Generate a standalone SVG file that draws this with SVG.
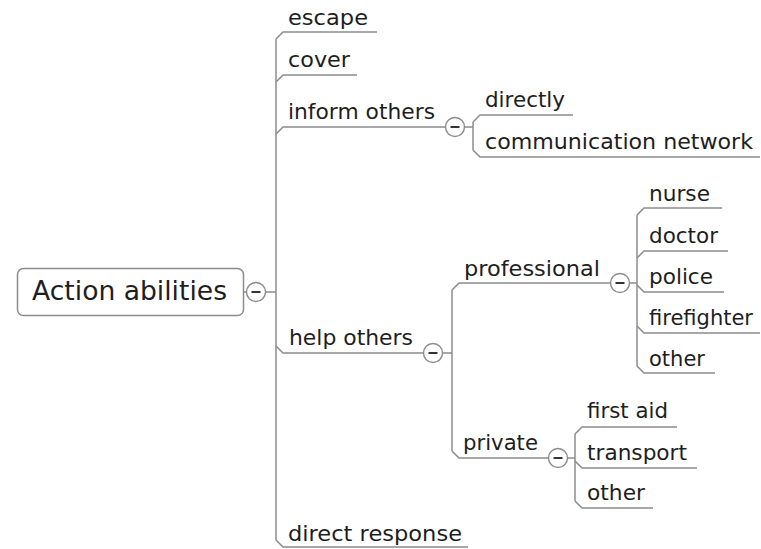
<svg xmlns="http://www.w3.org/2000/svg" width="761" height="549" viewBox="0 0 761 549">
  <style>
    .lbl { font-family: "DejaVu Sans", "Liberation Sans", sans-serif; font-size: 22px; fill: #1e1e1e; }
    .root { font-family: "DejaVu Sans", "Liberation Sans", sans-serif; font-size: 26.5px; fill: #1e1e1e; }
    .ln { fill: none; stroke: #8c8c8c; stroke-width: 1.5; stroke-linejoin: round; }
    .tog circle { fill: #fff; stroke: #8c8c8c; stroke-width: 1.4; }
    .tog line { stroke: #333; stroke-width: 2; }
  </style>
  <defs>
    <g id="toggle" class="tog">
      <circle cx="0" cy="0" r="9.5"/>
      <line x1="-4.5" y1="0" x2="4.5" y2="0"/>
    </g>
  </defs>
  <rect width="761" height="549" fill="#fff"/>

  <!-- connectors -->
  <g id="connectors" class="ln">
    <!-- root to main trunk -->
    <path d="M244,292 H246.5 M265.5,292 H276"/>
    <path d="M276,39 V540"/>
    <path d="M276,39 L283,32 H377"/>
    <path d="M276,82 L283,75 H357"/>
    <path d="M276,134 L283,127 H445.5 M464.5,127 H473"/>
    <path d="M276,346 L283,353 H423.5 M442.5,353 H452"/>
    <path d="M276,540 L283,547 H468"/>
    <!-- inform others -->
    <path d="M473,122 V150"/>
    <path d="M473,122 L480,115 H573"/>
    <path d="M473,150 L480,157 H760"/>
    <!-- help others -->
    <path d="M452,290 V451"/>
    <path d="M452,290 L459,283 H610.5 M629.5,283 H637"/>
    <path d="M452,451 L459,458 H548.5 M567.5,458 H575"/>
    <!-- professional -->
    <path d="M637,215 V366"/>
    <path d="M637,215 L644,208 H722"/>
    <path d="M637,258 L644,251 H728"/>
    <path d="M637,285 L644,292 H724"/>
    <path d="M637,326 L644,333 H760"/>
    <path d="M637,366 L644,373 H715"/>
    <!-- private -->
    <path d="M575,434 V501"/>
    <path d="M575,434 L582,427 H677"/>
    <path d="M575,461 L582,468 H697"/>
    <path d="M575,501 L582,508 H653"/>
  </g>

  <g id="node-root">
    <rect x="17.5" y="268.5" width="226" height="47" rx="6" fill="#fff" stroke="#8c8c8c" stroke-width="1.5"/>
    <text class="root" x="32" y="300" textLength="195" lengthAdjust="spacingAndGlyphs">Action abilities</text>
    <use href="#toggle" x="256" y="292"/>
  </g>

  <g id="node-escape"><text class="lbl" x="288" y="25" textLength="80" lengthAdjust="spacingAndGlyphs">escape</text></g>
  <g id="node-cover"><text class="lbl" x="288" y="67" textLength="62" lengthAdjust="spacingAndGlyphs">cover</text></g>
  <g id="node-inform">
    <text class="lbl" x="288" y="119" textLength="147" lengthAdjust="spacingAndGlyphs">inform others</text>
    <use href="#toggle" x="455" y="127"/>
  </g>
  <g id="node-directly"><text class="lbl" x="485" y="107" textLength="80" lengthAdjust="spacingAndGlyphs">directly</text></g>
  <g id="node-network"><text class="lbl" x="485" y="149" textLength="268" lengthAdjust="spacingAndGlyphs">communication network</text></g>

  <g id="node-help">
    <text class="lbl" x="289" y="345" textLength="124" lengthAdjust="spacingAndGlyphs">help others</text>
    <use href="#toggle" x="433" y="353"/>
  </g>
  <g id="node-professional">
    <text class="lbl" x="464" y="276" textLength="136" lengthAdjust="spacingAndGlyphs">professional</text>
    <use href="#toggle" x="620" y="283"/>
  </g>
  <g id="node-nurse"><text class="lbl" x="649" y="201" textLength="61" lengthAdjust="spacingAndGlyphs">nurse</text></g>
  <g id="node-doctor"><text class="lbl" x="649" y="243" textLength="69" lengthAdjust="spacingAndGlyphs">doctor</text></g>
  <g id="node-police"><text class="lbl" x="649" y="284" textLength="64" lengthAdjust="spacingAndGlyphs">police</text></g>
  <g id="node-firefighter"><text class="lbl" x="649" y="325" textLength="104" lengthAdjust="spacingAndGlyphs">firefighter</text></g>
  <g id="node-prof-other"><text class="lbl" x="649" y="366" textLength="56" lengthAdjust="spacingAndGlyphs">other</text></g>

  <g id="node-private">
    <text class="lbl" x="463" y="450" textLength="75" lengthAdjust="spacingAndGlyphs">private</text>
    <use href="#toggle" x="558" y="458"/>
  </g>
  <g id="node-firstaid"><text class="lbl" x="587" y="418" textLength="81" lengthAdjust="spacingAndGlyphs">first aid</text></g>
  <g id="node-transport"><text class="lbl" x="587" y="460" textLength="100" lengthAdjust="spacingAndGlyphs">transport</text></g>
  <g id="node-priv-other"><text class="lbl" x="587" y="500" textLength="58" lengthAdjust="spacingAndGlyphs">other</text></g>

  <g id="node-direct"><text class="lbl" x="288" y="541" textLength="174" lengthAdjust="spacingAndGlyphs">direct response</text></g>
</svg>
